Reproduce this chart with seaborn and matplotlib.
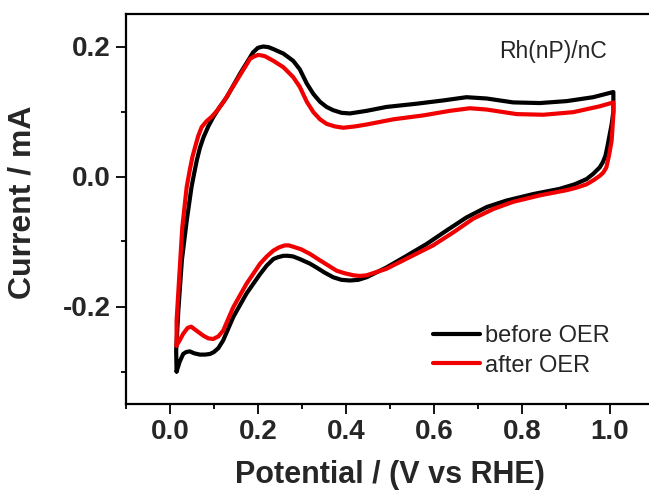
import numpy as np
import pandas as pd
import seaborn as sns
import matplotlib
matplotlib.use("Agg")
import matplotlib.pyplot as plt
from matplotlib.ticker import MultipleLocator, FormatStrFormatter

# ---- data ----
before_upper_E = [0.015, 0.014, 0.019, 0.027, 0.038, 0.049, 0.055, 0.061, 0.068, 0.076, 0.087,
                  0.098, 0.112, 0.129, 0.159, 0.189, 0.200, 0.212, 0.224, 0.235, 0.258, 0.280,
                  0.295, 0.311, 0.326, 0.341, 0.356, 0.371, 0.390, 0.409, 0.447, 0.492, 0.561,
                  0.621, 0.674, 0.720, 0.780, 0.841, 0.902, 0.962, 1.008]
before_upper_I = [-0.300, -0.268, -0.206, -0.129, -0.068, -0.016, 0.005, 0.025, 0.044, 0.060, 0.077,
                  0.091, 0.106, 0.122, 0.158, 0.191, 0.198, 0.200, 0.199, 0.196, 0.189, 0.178,
                  0.165, 0.143, 0.127, 0.115, 0.107, 0.102, 0.098, 0.097, 0.101, 0.107, 0.112,
                  0.117, 0.122, 0.120, 0.114, 0.113, 0.116, 0.122, 0.130]
before_lower_E = [1.008, 1.008, 1.004, 1.000, 0.995, 0.990, 0.984, 0.977, 0.962, 0.947, 0.920,
                  0.886, 0.826, 0.765, 0.720, 0.674, 0.629, 0.583, 0.538, 0.492, 0.447, 0.428,
                  0.409, 0.390, 0.371, 0.352, 0.333, 0.318, 0.295, 0.280, 0.268, 0.258, 0.246,
                  0.235, 0.220, 0.205, 0.174, 0.144, 0.121, 0.110, 0.100, 0.091, 0.080, 0.068,
                  0.055, 0.045, 0.037, 0.030, 0.022, 0.015]
before_lower_I = [0.130, 0.100, 0.080, 0.066, 0.048, 0.032, 0.022, 0.014, 0.004, -0.004, -0.012,
                  -0.019, -0.027, -0.037, -0.047, -0.063, -0.083, -0.104, -0.122, -0.140, -0.155, -0.159,
                  -0.160, -0.159, -0.155, -0.148, -0.140, -0.134, -0.127, -0.123, -0.122, -0.122, -0.124,
                  -0.127, -0.137, -0.150, -0.180, -0.216, -0.252, -0.264, -0.270, -0.273, -0.274, -0.274,
                  -0.272, -0.269, -0.270, -0.273, -0.285, -0.300]

after_upper_E = [0.015, 0.015, 0.021, 0.028, 0.038, 0.045, 0.051, 0.057, 0.064, 0.072, 0.083,
                 0.095, 0.108, 0.121, 0.152, 0.182, 0.192, 0.201, 0.210, 0.216, 0.235, 0.258,
                 0.280, 0.295, 0.311, 0.326, 0.341, 0.356, 0.375, 0.394, 0.420, 0.447, 0.508,
                 0.576, 0.636, 0.682, 0.720, 0.788, 0.849, 0.917, 0.977, 1.008]
after_upper_I = [-0.260, -0.222, -0.155, -0.078, -0.016, 0.010, 0.030, 0.045, 0.062, 0.076, 0.085,
                 0.092, 0.102, 0.114, 0.148, 0.181, 0.185, 0.187, 0.186, 0.185, 0.178, 0.168,
                 0.153, 0.138, 0.115, 0.099, 0.088, 0.081, 0.077, 0.075, 0.077, 0.080, 0.088,
                 0.094, 0.101, 0.105, 0.103, 0.096, 0.095, 0.099, 0.108, 0.114]
after_lower_E = [1.008, 1.008, 1.006, 1.004, 0.998, 0.992, 0.985, 0.977, 0.962, 0.947, 0.925,
                 0.902, 0.841, 0.780, 0.735, 0.689, 0.644, 0.598, 0.545, 0.492, 0.447, 0.432,
                 0.417, 0.398, 0.379, 0.360, 0.341, 0.318, 0.298, 0.280, 0.270, 0.261, 0.248,
                 0.235, 0.220, 0.205, 0.174, 0.144, 0.121, 0.110, 0.098, 0.087, 0.076, 0.060,
                 0.048, 0.040, 0.030, 0.022, 0.015]
after_lower_I = [0.114, 0.096, 0.075, 0.055, 0.032, 0.014, 0.006, 0.001, -0.006, -0.012, -0.017,
                 -0.021, -0.029, -0.039, -0.050, -0.065, -0.086, -0.106, -0.124, -0.142, -0.152, -0.153,
                 -0.152, -0.149, -0.145, -0.137, -0.129, -0.119, -0.112, -0.108, -0.106, -0.106, -0.109,
                 -0.114, -0.123, -0.134, -0.165, -0.201, -0.237, -0.246, -0.250, -0.249, -0.245, -0.237,
                 -0.231, -0.233, -0.242, -0.252, -0.260]

series_labels = ["before OER", "after OER"]
series_colors = ["#000000", "#f00000"]
x_ticks = [0.0, 0.2, 0.4, 0.6, 0.8, 1.0]
y_ticks = [-0.2, 0.0, 0.2]

# ---- build tidy table ----
frames = []
for lab, E, I in [(series_labels[0], before_upper_E + before_lower_E, before_upper_I + before_lower_I),
                  (series_labels[1], after_upper_E + after_lower_E, after_upper_I + after_lower_I)]:
    frames.append(pd.DataFrame({"E": E, "I": I, "Condition": lab}))
df = pd.concat(frames, ignore_index=True)

sns.set_style("ticks")
plt.rcParams["font.family"] = ["Liberation Sans", "DejaVu Sans"]
plt.rcParams["axes.unicode_minus"] = False

fig = plt.figure(figsize=(6.49, 4.95), dpi=100)
ax = fig.add_axes([126 / 649, 91 / 495, 523 / 649, 390 / 495])

sns.lineplot(data=df, x="E", y="I", hue="Condition", hue_order=series_labels,
             palette=dict(zip(series_labels, series_colors)), sort=False, estimator=None,
             linewidth=3.0, ax=ax, legend=True)
for ln in ax.get_lines():
    ln.set_solid_joinstyle("round")
    ln.set_solid_capstyle("round")

ax.set_xlim(-0.1, 1.089)
ax.set_ylim(-0.35, 0.25)
ax.set_xticks(x_ticks)
ax.set_yticks(y_ticks)
ax.xaxis.set_minor_locator(MultipleLocator(0.1))
ax.yaxis.set_minor_locator(MultipleLocator(0.1))
ax.xaxis.set_major_formatter(FormatStrFormatter("%.1f"))
ax.yaxis.set_major_formatter(FormatStrFormatter("%.1f"))

for s in ["left", "bottom", "top"]:
    ax.spines[s].set_linewidth(1.6)
    ax.spines[s].set_color("black")
ax.spines["right"].set_visible(False)

ax.tick_params(which="major", direction="out", length=7, width=1.3, color="black",
               labelsize=20, pad=4, top=False, right=False)
ax.tick_params(which="minor", direction="out", length=3.5, width=1.3, color="black",
               top=False, right=False)
for t in ax.get_xticklabels() + ax.get_yticklabels():
    t.set_fontweight("bold")

ax.set_xlabel("Potential / (V vs RHE)", fontsize=22, fontweight="bold")
ax.set_ylabel("Current / mA", fontsize=23, fontweight="bold")
ax.xaxis.set_label_coords(0.505, -0.182)
ax.yaxis.set_label_coords(-0.198, 0.517)
ax.xaxis.label.set_verticalalignment("center")
ax.yaxis.label.set_verticalalignment("center")

ax.text(0.817, 0.903, "Rh(nP)/nC", transform=ax.transAxes, ha="center", va="center",
        fontsize=16.5)

h, l = ax.get_legend_handles_labels()
ax.legend(h, l, loc="center left", bbox_to_anchor=(0.587, 0.136), frameon=False,
          fontsize=17, handlelength=2.0, handletextpad=0.2, labelspacing=0.3,
          borderpad=0, borderaxespad=0)

fig.savefig("out.png", dpi=100)
